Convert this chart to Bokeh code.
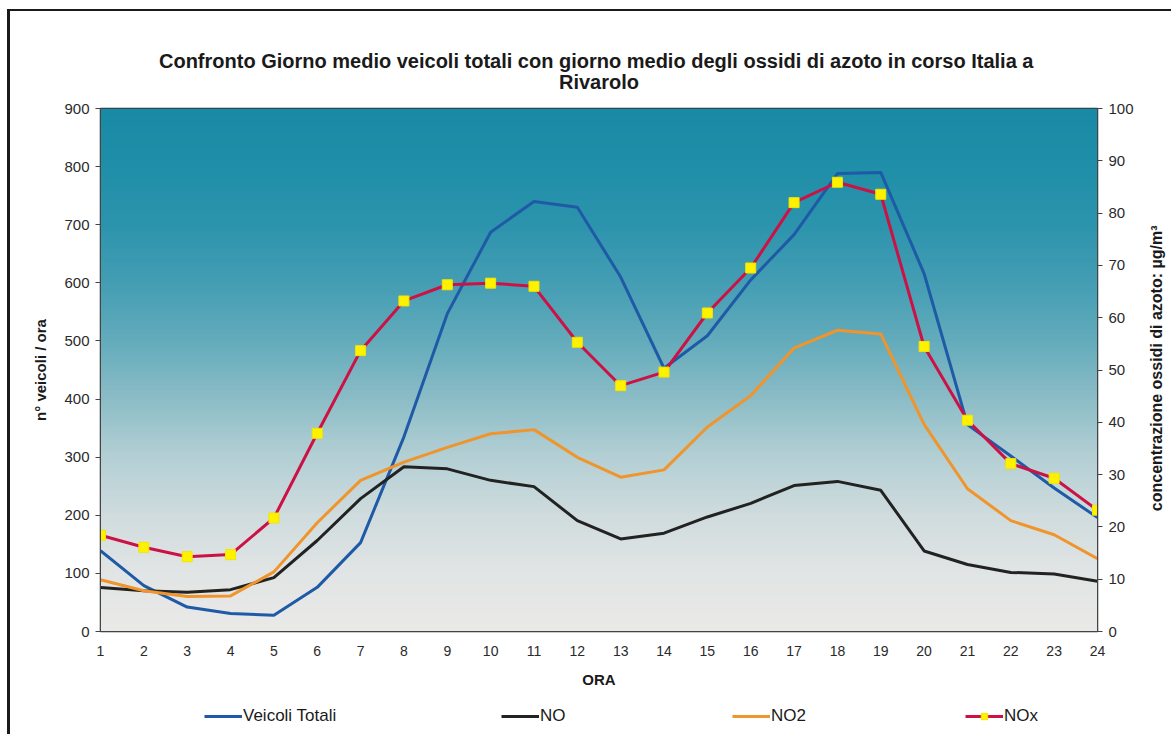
import numpy as np
from bokeh.plotting import figure
from bokeh.layouts import column
from bokeh.models import Range1d, LinearAxis, Legend, LegendItem, Title, FixedTicker
from bokeh.embed import file_html
from bokeh.resources import INLINE

hours = list(range(1, 25))
veicoli = [139, 79, 42, 31, 28, 76, 153, 335, 547, 687, 740, 730, 610, 453, 509, 605, 683, 788, 790, 616, 356, 302, 247, 196]
no = [8.4, 7.8, 7.5, 8.0, 10.3, 17.4, 25.4, 31.5, 31.1, 28.9, 27.7, 21.2, 17.7, 18.8, 21.9, 24.5, 27.9, 28.7, 27.0, 15.4, 12.8, 11.3, 11.0, 9.6]
no2 = [9.9, 7.8, 6.7, 6.8, 11.4, 20.8, 28.9, 32.4, 35.2, 37.8, 38.6, 33.3, 29.5, 30.9, 39.1, 45.1, 54.2, 57.6, 56.9, 39.6, 27.3, 21.2, 18.5, 13.9]
nox = [18.4, 16.1, 14.3, 14.7, 21.7, 37.9, 53.7, 63.2, 66.3, 66.6, 66.0, 55.3, 47.0, 49.6, 60.9, 69.5, 82.0, 85.9, 83.6, 54.5, 40.4, 32.1, 29.3, 23.2]

title_line1 = "Confronto Giorno medio  veicoli totali con giorno medio degli ossidi di azoto in corso Italia a"
title_line2 = "Rivarolo"
left_label = "n° veicoli / ora"
right_label = "concentrazione ossidi di azoto: µg/m³"
x_label = "ORA"
legend_labels = ["Veicoli Totali", "NO", "NO2", "NOx"]

FONT = "Liberation Sans"
C_V, C_NO, C_NO2, C_NOX, C_MK = "#1f5aa6", "#222222", "#f0942c", "#cc1245", "#fff200"

p = figure(frame_width=997, frame_height=523,
           min_border_left=90, min_border_right=74, min_border_top=97, min_border_bottom=69,
           x_range=Range1d(1, 24), y_range=Range1d(0, 900),
           output_backend="svg", toolbar_location=None,
           background_fill_color="#ffffff", border_fill_color="#ffffff")
p.extra_y_ranges = {"nox": Range1d(0, 100)}

# gradient background (decoration)
N = 300
stops_v = [0, 100, 200, 300, 400, 500, 600, 700, 800, 900]
stops_c = [(234, 234, 232), (226, 229, 229), (208, 220, 222), (180, 208, 213), (140, 189, 199),
           (100, 172, 188), (68, 158, 180), (45, 148, 173), (32, 143, 169), (25, 138, 166)]
img = np.empty((N, 2), dtype=np.uint32)
view = img.view(dtype=np.uint8).reshape((N, 2, 4))
for i in range(N):
    v = (i + 0.5) / N * 900
    for c in range(3):
        view[i, :, c] = int(np.interp(v, stops_v, [s[c] for s in stops_c]))
    view[i, :, 3] = 255
p.image_rgba(image=[img], x=1, y=0, dw=23, dh=900)

# grid
p.xgrid.visible = False
p.ygrid.grid_line_color = "#b9968e"
p.ygrid.grid_line_dash = "3 3"
p.ygrid.grid_line_width = 1.5
p.ygrid.grid_line_alpha = 0.9
p.ygrid.ticker = FixedTicker(ticks=list(range(100, 900, 100)))
p.outline_line_color = "#333333"
p.outline_line_width = 1.5

# axes
p.yaxis.ticker = FixedTicker(ticks=list(range(0, 1000, 100)))
p.xaxis.ticker = FixedTicker(ticks=hours)
for ax in (p.xaxis[0], p.yaxis[0]):
    ax.axis_line_color = "#444444"
    ax.major_tick_line_color = "#444444"
    ax.minor_tick_line_color = None
    ax.major_label_text_font = FONT
    ax.major_label_text_font_size = "15px"
    ax.major_label_text_color = "#2a2a2a"
    ax.axis_label_text_font = FONT
    ax.axis_label_text_font_style = "bold"
    ax.axis_label_text_font_size = "15px"
    ax.axis_label_text_color = "#1a1a1a"
p.xaxis.major_label_text_font_size = "14px"
p.xaxis.major_tick_out = 0
p.xaxis.major_tick_in = 0
p.xaxis.major_label_standoff = 14
p.xaxis.axis_label = x_label
p.xaxis.axis_label_standoff = 12
p.yaxis.axis_label = left_label
p.yaxis.major_tick_out = 5
p.yaxis.major_tick_in = 0
p.yaxis.major_label_standoff = 6
p.yaxis.axis_label_standoff = 12

rax = LinearAxis(y_range_name="nox", ticker=FixedTicker(ticks=list(range(0, 110, 10))))
rax.axis_line_color = "#444444"
rax.major_tick_line_color = "#444444"
rax.minor_tick_line_color = None
rax.major_tick_out = 5
rax.major_tick_in = 0
rax.major_label_standoff = 6
rax.major_label_text_font = FONT
rax.major_label_text_font_size = "15px"
rax.major_label_text_color = "#2a2a2a"
p.add_layout(rax, "right")

# right axis title (reads bottom-to-top), drawn as a rotated label of an unlined axis
LAB_AT = 23
rlab = LinearAxis(y_range_name="nox", ticker=FixedTicker(ticks=[LAB_AT]),
                  major_label_overrides={LAB_AT: right_label}, major_label_orientation=np.pi / 2)
rlab.axis_line_color = None
rlab.major_tick_line_color = None
rlab.minor_tick_line_color = None
rlab.major_tick_out = 0
rlab.major_tick_in = 0
rlab.major_label_standoff = 20
rlab.major_label_text_font = FONT
rlab.major_label_text_font_style = "bold"
rlab.major_label_text_font_size = "16px"
rlab.major_label_text_color = "#1a1a1a"
p.add_layout(rlab, "right")

# title: two centred lines
p.add_layout(Title(text=title_line2, align="center", text_font=FONT, text_font_style="bold",
                   text_font_size="20px", text_color="#1a1a1a", standoff=32), "above")
p.add_layout(Title(text=title_line1, align="center", text_font=FONT, text_font_style="bold",
                   text_font_size="20px", text_color="#1a1a1a", standoff=-38), "above")

# series
r_v = p.line(hours, veicoli, line_color=C_V, line_width=3)
r_no = p.line(hours, no, line_color=C_NO, line_width=3, y_range_name="nox")
r_no2 = p.line(hours, no2, line_color=C_NO2, line_width=3, y_range_name="nox")
r_nox = p.line(hours, nox, line_color=C_NOX, line_width=3, y_range_name="nox")
r_noxm = p.scatter(hours, nox, marker="square", size=10, fill_color=C_MK,
                   line_color="#f2e400", y_range_name="nox")

# legend strip below the chart (series drawn out of view: only their legend swatches show)
q = figure(width=1161, height=34, min_border=0, x_range=Range1d(100, 101), y_range=Range1d(-2000, -1999),
           output_backend="svg", toolbar_location=None, outline_line_color=None,
           background_fill_color="#ffffff", border_fill_color="#ffffff")
q.axis.visible = False
q.grid.visible = False
l_v = q.line(hours, veicoli, line_color=C_V, line_width=3)
l_no = q.line(hours, no, line_color=C_NO, line_width=3)
l_no2 = q.line(hours, no2, line_color=C_NO2, line_width=3)
l_nox = q.line(hours, nox, line_color=C_NOX, line_width=3)
l_noxm = q.scatter(hours, nox, marker="square", size=10, fill_color=C_MK, line_color="#f2e400")

def add_leg(label, rends, x):
    lg = Legend(items=[LegendItem(label=label, renderers=rends)], location=(x, 8),
                orientation="horizontal", padding=0, margin=0, spacing=0,
                glyph_width=38, glyph_height=16, label_standoff=1,
                label_text_font=FONT, label_text_font_size="17px", label_text_color="#1a1a1a",
                background_fill_alpha=0, border_line_color=None)
    q.add_layout(lg, "center")

add_leg(legend_labels[0], [l_v], 104)
add_leg(legend_labels[1], [l_no], 401)
add_leg(legend_labels[2], [l_no2], 632)
add_leg(legend_labels[3], [l_nox, l_noxm], 865)

layout = column(p, q, spacing=0,
                styles={"margin-left": "7px", "margin-top": "9px",
                        "border-left": "3px solid #1a1a1a", "border-top": "2px solid #1a1a1a"})

open("out.html", "w").write(file_html(layout, INLINE))
